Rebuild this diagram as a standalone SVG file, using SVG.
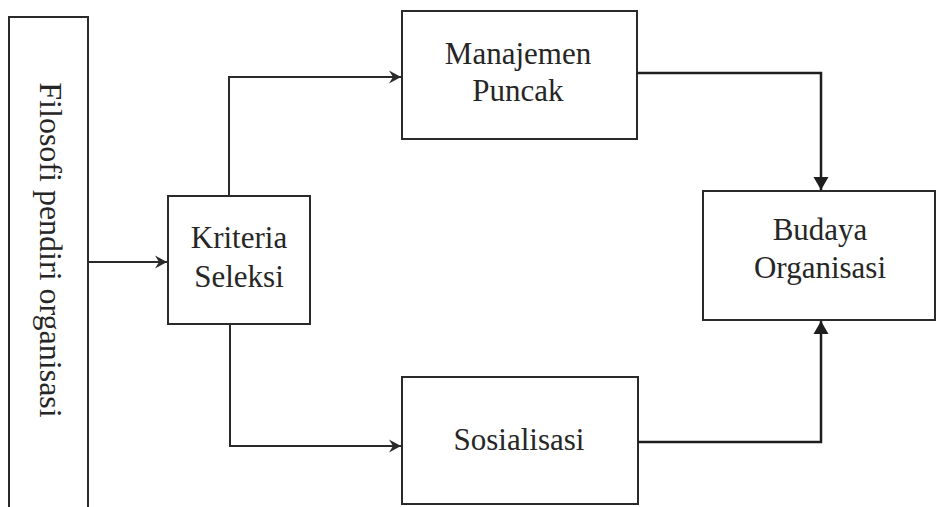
<svg xmlns="http://www.w3.org/2000/svg" width="937" height="507" viewBox="0 0 937 507">
<style>
.box{fill:none;stroke:#2a2a2a;stroke-width:2}
.lbl{font-family:"Liberation Serif","Times New Roman",serif;font-size:31px;fill:#262626;text-anchor:middle}
.con{fill:none;stroke:#2a2a2a;stroke-width:2}
.con2{fill:none;stroke:#1e1e1e;stroke-width:2.5}
</style>
<defs>
<marker id="open" viewBox="0 0 14 14" refX="13" refY="7" markerWidth="14" markerHeight="14" markerUnits="userSpaceOnUse" orient="auto">
<path d="M1,0.5 L13,7 L1,13.5 L5,7 Z" fill="#2a2a2a"/>
</marker>
<marker id="solid" viewBox="0 0 14 16" refX="13" refY="8" markerWidth="14" markerHeight="16" markerUnits="userSpaceOnUse" orient="auto">
<path d="M0,0.5 L13,8 L0,15.5 Z" fill="#1e1e1e"/>
</marker>
</defs>
<rect width="937" height="507" fill="#ffffff"/>
<g id="filosofi">
<rect class="box" x="9" y="17" width="79" height="500"/>
<text class="lbl" transform="translate(40,250) rotate(90)" x="0" y="0" style="font-size:32px">Filosofi pendiri organisasi</text>
</g>
<g id="kriteria">
<rect class="box" x="168" y="196" width="142" height="128"/>
<text class="lbl" x="239" y="248">Kriteria</text>
<text class="lbl" x="239" y="287">Seleksi</text>
</g>
<g id="manajemen">
<rect class="box" x="402" y="11" width="235" height="128"/>
<text class="lbl" x="518" y="64">Manajemen</text>
<text class="lbl" x="518" y="101">Puncak</text>
</g>
<g id="sosialisasi">
<rect class="box" x="402" y="377" width="236" height="127"/>
<text class="lbl" x="519" y="450">Sosialisasi</text>
</g>
<g id="budaya">
<rect class="box" x="703" y="191" width="232" height="129"/>
<text class="lbl" x="820" y="240">Budaya</text>
<text class="lbl" x="820" y="278">Organisasi</text>
</g>
<g id="connectors">
<path class="con" d="M88,262 H167" marker-end="url(#open)"/>
<path class="con" d="M229,196 V77 H401" marker-end="url(#open)"/>
<path class="con" d="M230,324 V446 H401" marker-end="url(#open)"/>
<path class="con2" d="M637,73 H821 V190" marker-end="url(#solid)"/>
<path class="con2" d="M638,442 H821 V321" marker-end="url(#solid)"/>
</g>
</svg>
